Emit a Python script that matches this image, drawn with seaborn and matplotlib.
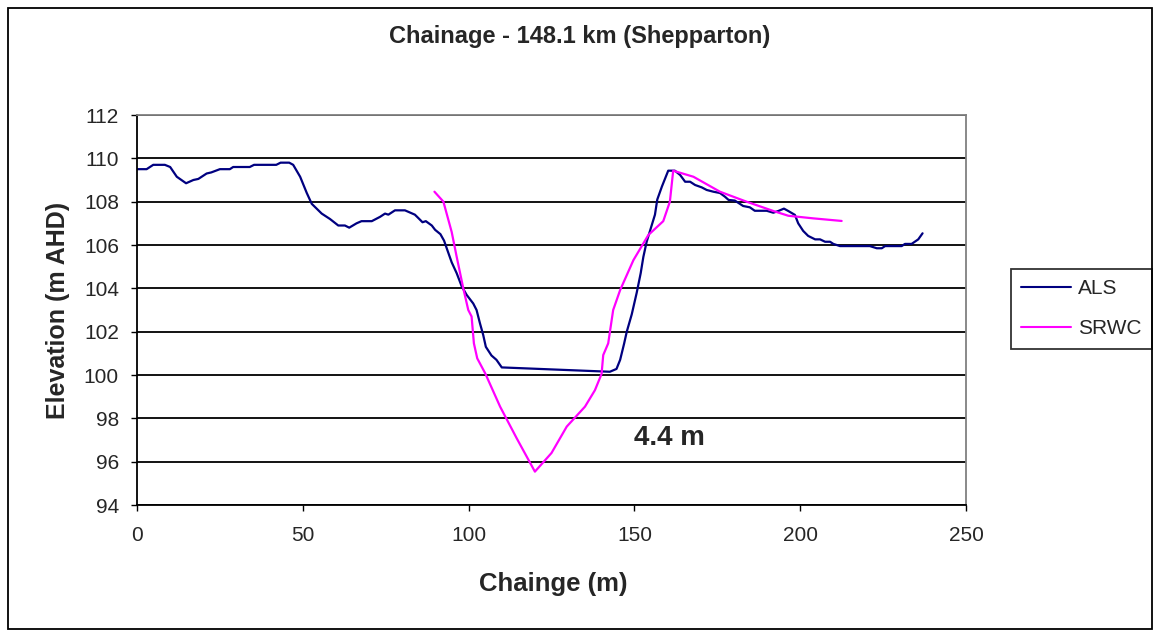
# Chainage cross-section: ALS vs SRWC profile at 148.1 km (Shepparton)
import pandas as pd
import numpy as np
import matplotlib
matplotlib.use("Agg")
import matplotlib.pyplot as plt
import seaborn as sns
from matplotlib.patches import Rectangle

sns.set_style("white")
plt.rcParams['font.family'] = ['Liberation Sans', 'DejaVu Sans']

# ---- data ----
als_x = [0, 2.9, 4.9, 8.4, 10, 12, 14.8, 17, 18.5, 21, 22.4, 25, 28, 29, 34, 35.3,
         42, 43.3, 45.9, 47.1, 49.2, 51.2, 52.7, 55.7, 58.2, 60.7, 62.7, 64, 66.2,
         67.7, 70.8, 73.3, 74.8, 75.8, 77.8, 80.8, 83.8, 84.8, 86.1, 87.1, 88.9,
         89.9, 91.5, 92.6, 93.4, 94.9, 96.4, 97.9, 99.4, 101.4, 102.4, 103.4, 104.4,
         105.2, 106.9, 108.4, 110, 142.6, 144.6, 145.7, 146.9, 147.7, 149.2, 150.7,
         151.9, 152.7, 153.7, 155.2, 156.2, 156.9, 158.3, 160.2, 162.2, 163.8, 165.3,
         166.8, 168.3, 170.3, 171.8, 173.8, 175.8, 177.3, 178.4, 180.3, 181.8, 182.8,
         184.8, 186.3, 189.9, 191.9, 193.4, 195.1, 196.4, 198.4, 199.4, 200.9, 202.4,
         204.5, 206, 207.5, 209, 210, 212, 221, 223.1, 224.6, 225.6, 230.6, 231.6,
         233.6, 235.6, 236.9]
als_y = [109.5, 109.5, 109.7, 109.7, 109.6, 109.15, 108.85, 109.0, 109.05, 109.3,
         109.35, 109.5, 109.5, 109.6, 109.6, 109.7, 109.7, 109.8, 109.8, 109.7,
         109.15, 108.4, 107.9, 107.45, 107.2, 106.9, 106.9, 106.8, 107.0, 107.1,
         107.1, 107.3, 107.45, 107.4, 107.6, 107.6, 107.4, 107.25, 107.05, 107.1,
         106.9, 106.7, 106.5, 106.2, 105.85, 105.2, 104.7, 104.1, 103.7, 103.3,
         103.0, 102.4, 101.85, 101.3, 100.9, 100.7, 100.35, 100.15, 100.28, 100.7,
         101.45, 102.0, 102.8, 103.8, 104.7, 105.45, 106.15, 106.9, 107.4, 108.1,
         108.7, 109.43, 109.43, 109.23, 108.92, 108.92, 108.77, 108.66, 108.54,
         108.46, 108.4, 108.23, 108.08, 108.05, 107.9, 107.8, 107.74, 107.58,
         107.58, 107.49, 107.57, 107.68, 107.57, 107.39, 107.0, 106.65, 106.42,
         106.26, 106.26, 106.15, 106.15, 106.05, 105.95, 105.95, 105.85, 105.85,
         105.95, 105.95, 106.05, 106.05, 106.26, 106.54]

srwc_x = [89.7, 92.4, 94.9, 96.4, 98.4, 99.9, 100.9, 101.6, 102.6, 105, 109.5, 114.5,
          120, 125, 129.6, 135.1, 138.1, 140.1, 140.6, 142.1, 143.6, 145.7, 149.7,
          154.2, 158.7, 160.7, 161.7, 167.8, 175.8, 183.8, 191.9, 196.4, 203.9, 212.5]
srwc_y = [108.46, 108.0, 106.6, 105.46, 104.0, 103.0, 102.7, 101.46, 100.77, 100.08,
          98.54, 97.08, 95.54, 96.4, 97.62, 98.54, 99.3, 100.05, 100.92, 101.46,
          103.0, 103.92, 105.3, 106.46, 107.1, 108.0, 109.43, 109.15, 108.46, 108.0,
          107.57, 107.35, 107.23, 107.11]

x_ticks = [0, 50, 100, 150, 200, 250]
y_ticks = [94, 96, 98, 100, 102, 104, 106, 108, 110, 112]

# long-form table for seaborn
df = pd.concat([
    pd.DataFrame({'Chainage': als_x, 'Elevation': als_y, 'Series': 'ALS'}),
    pd.DataFrame({'Chainage': srwc_x, 'Elevation': srwc_y, 'Series': 'SRWC'}),
], ignore_index=True)

# ---- figure ----
fig = plt.figure(figsize=(11.57, 6.32), dpi=100)
ax = fig.add_axes([137/1157, 1 - 505/632, (966-137)/1157, (505-115)/632])

sns.lineplot(data=df, x='Chainage', y='Elevation', hue='Series',
             palette={'ALS': '#000080', 'SRWC': '#FF00FF'},
             estimator=None, sort=False, linewidth=1.6, ax=ax, legend=True)

ax.set_xlim(0, 250)
ax.set_ylim(94, 112)
ax.set_xticks(x_ticks)
ax.set_yticks(y_ticks)
ax.yaxis.grid(True, color='black', linewidth=1.3)
ax.xaxis.grid(False)
ax.set_axisbelow(True)

for s in ['top', 'right']:
    ax.spines[s].set_color('#808080')
    ax.spines[s].set_linewidth(1.3)
for s in ['left', 'bottom']:
    ax.spines[s].set_color('black')
    ax.spines[s].set_linewidth(1.3)

ax.tick_params(axis='both', direction='out', length=4, width=1, color='black',
               labelsize=15, left=True, bottom=True)
ax.tick_params(axis='y', pad=9)
ax.tick_params(axis='x', pad=11)

ax.set_xlabel('')
ax.set_ylabel('')

# titles and labels
fig.text(580/1157, 1 - 37/632, 'Chainage - 148.1 km (Shepparton)',
         ha='center', va='center', fontsize=17, fontweight='bold')
fig.text(553/1157, 1 - 584/632, 'Chainge (m)', ha='center', va='center',
         fontsize=18.5, fontweight='bold')
fig.text(58/1157, 1 - 310/632, 'Elevation (m AHD)', ha='center', va='center',
         rotation=90, fontsize=18, fontweight='bold')

ax.text(160.7, 97.1, '4.4 m', ha='center', va='center', fontsize=20,
        fontweight='bold')

# legend
handles, labels = ax.get_legend_handles_labels()
leg = ax.legend(handles, labels, loc='upper left',
                bbox_to_anchor=(1011/1157, 1 - 269/632),
                bbox_transform=fig.transFigure, fontsize=15, frameon=True,
                fancybox=False, shadow=False, borderpad=0.5, labelspacing=1.0,
                handlelength=2.4, handletextpad=0.3, borderaxespad=0)
leg.get_frame().set_edgecolor('black')
leg.get_frame().set_linewidth(1.3)
for line in leg.get_lines():
    line.set_linewidth(1.5)

# outer chart border
fig.patches.append(Rectangle((8/1157, 3/632), (1152-8)/1157, (624-3)/632,
                             transform=fig.transFigure, fill=False,
                             edgecolor='black', linewidth=1.3))

plt.savefig('out.png', dpi=100)
